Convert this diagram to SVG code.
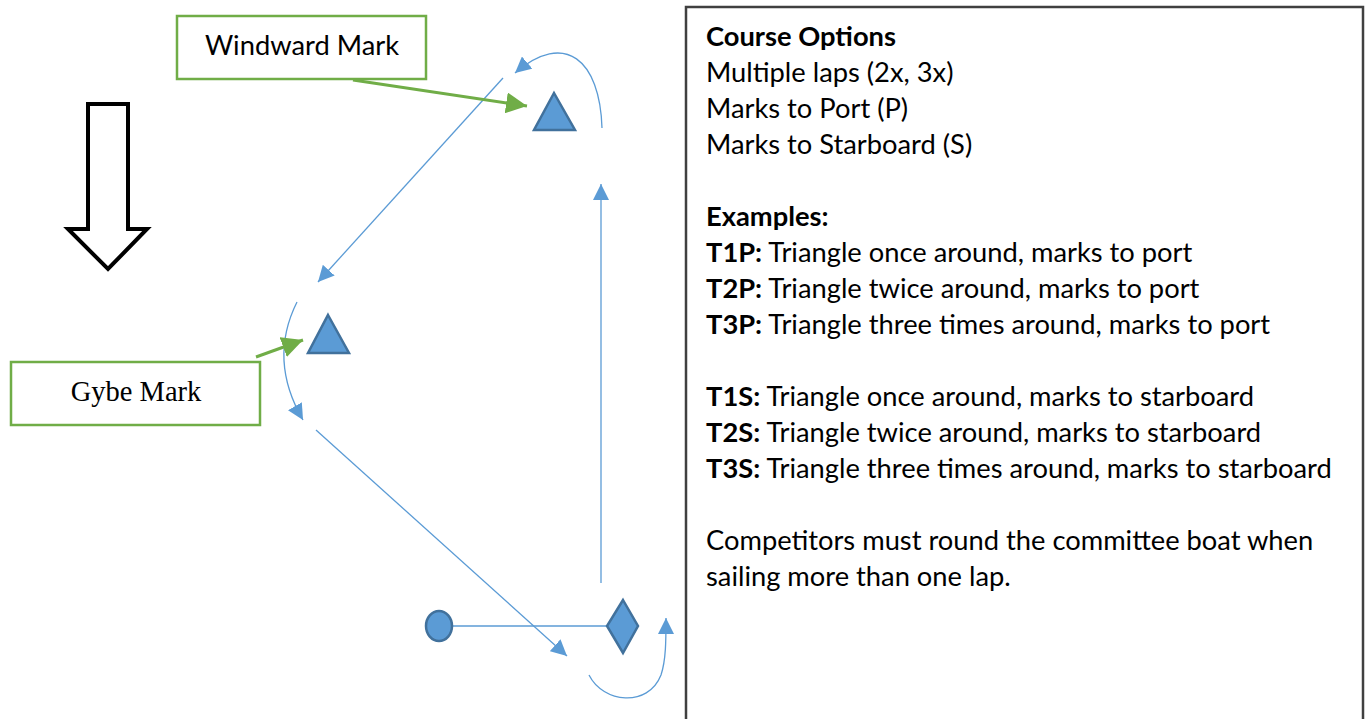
<svg xmlns="http://www.w3.org/2000/svg" width="1369" height="719" viewBox="0 0 1369 719">
<style>
.lbl{fill:#fff;stroke:#70ad47;stroke-width:2.5}
.mark{fill:#5b9bd5;stroke:#41719c;stroke-width:2.5}
.path{fill:none;stroke:#5b9bd5;stroke-width:1.3}
.t{font-family:Lato,"Open Sans",sans-serif;font-size:27.3px;fill:#000}
.b{font-weight:bold}
</style>
<defs>
<marker id="ab" viewBox="0 0 10 10" refX="10" refY="5" markerWidth="16" markerHeight="16" markerUnits="userSpaceOnUse" orient="auto"><path d="M0,0L10,5L0,10z" fill="#5b9bd5"/></marker>
<marker id="ag" viewBox="0 0 10 10" refX="10" refY="5" markerWidth="7" markerHeight="7" orient="auto"><path d="M0,0L10,5L0,10z" fill="#70ad47"/></marker>
</defs>
<rect x="0" y="0" width="1369" height="719" fill="#fff"/>
<g id="wind"><path d="M88,104H128V229H147L108,269L68,229H88Z" fill="#fff" stroke="#000" stroke-width="4"/></g>
<g id="connectors">
<path class="path" d="M503,78L318,282" marker-end="url(#ab)"/>
<path class="path" d="M297,302Q268,360 303,420" marker-end="url(#ab)"/>
<path class="path" d="M316,430L567,656" marker-end="url(#ab)"/>
<path class="path" d="M589,675C603,703 648,708 661,675C666,660 666,640 666,618" marker-end="url(#ab)"/>
<path class="path" d="M601,583L601,184" marker-end="url(#ab)"/>
<path class="path" d="M602,128C600,60 565,30 515,73" marker-end="url(#ab)"/>
<path class="path" d="M453,626H607"/>
<path d="M353,80L527,106" stroke="#70ad47" stroke-width="3" fill="none" marker-end="url(#ag)"/>
<path d="M256,357L303,340" stroke="#70ad47" stroke-width="3" fill="none" marker-end="url(#ag)"/>
</g>
<g id="windward-label"><rect class="lbl" x="177" y="16" width="249" height="63"/><text class="t" x="302" y="55" text-anchor="middle">Windward Mark</text></g>
<g id="gybe-label"><rect class="lbl" x="11" y="362" width="249" height="63"/><text x="136" y="401" text-anchor="middle" font-family="Liberation Serif,serif" font-size="28.5">Gybe Mark</text></g>
<g id="windward-mark"><path class="mark" d="M554,93L575,130H534Z"/></g>
<g id="gybe-mark"><path class="mark" d="M328,315L349,353H308Z"/></g>
<g id="start-pin"><ellipse class="mark" cx="439" cy="626" rx="13" ry="15"/></g>
<g id="committee-boat"><path class="mark" d="M623,600L638,626L623,653L607,626Z"/></g>
<g id="panel">
<rect x="686" y="7" width="677" height="730" fill="#fff" stroke="#404040" stroke-width="2.5"/>
<text class="t" x="706">
<tspan class="b" y="46">Course Options</tspan>
<tspan x="706" y="82">Multiple laps (2x, 3x)</tspan>
<tspan x="706" y="118">Marks to Port (P)</tspan>
<tspan x="706" y="154">Marks to Starboard (S)</tspan>
<tspan x="706" y="226" class="b">Examples:</tspan>
<tspan x="706" y="262"><tspan class="b">T1P:</tspan> Triangle once around, marks to port</tspan>
<tspan x="706" y="298"><tspan class="b">T2P:</tspan> Triangle twice around, marks to port</tspan>
<tspan x="706" y="334"><tspan class="b">T3P:</tspan> Triangle three times around, marks to port</tspan>
<tspan x="706" y="406"><tspan class="b">T1S:</tspan> Triangle once around, marks to starboard</tspan>
<tspan x="706" y="442"><tspan class="b">T2S:</tspan> Triangle twice around, marks to starboard</tspan>
<tspan x="706" y="478"><tspan class="b">T3S:</tspan> Triangle three times around, marks to starboard</tspan>
<tspan x="706" y="550">Competitors must round the committee boat when</tspan>
<tspan x="706" y="586">sailing more than one lap.</tspan>
</text>
</g>
</svg>
